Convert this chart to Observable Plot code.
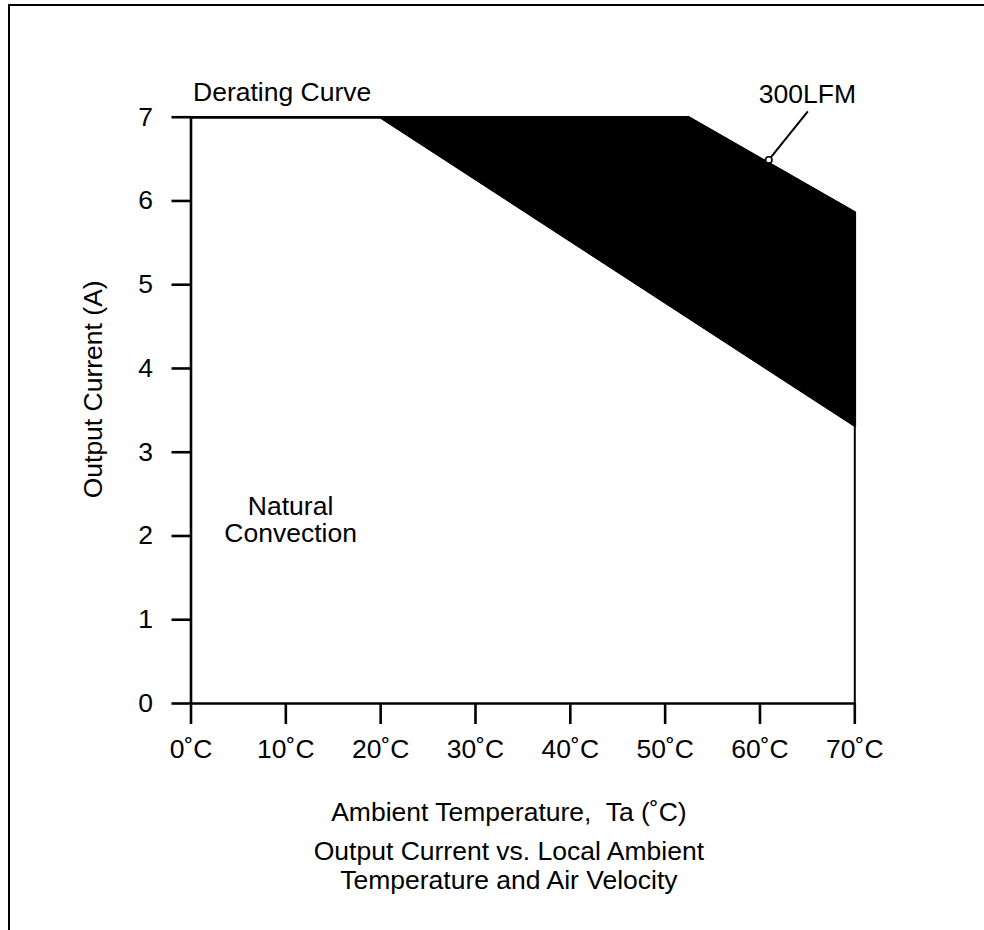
<!DOCTYPE html>
<html>
<head>
<meta charset="utf-8">
<script src="https://cdn.jsdelivr.net/npm/d3@7"></script>
<script src="https://cdn.jsdelivr.net/npm/@observablehq/plot@0.6"></script>
<style>
  html, body { margin: 0; padding: 0; background: #fff; }
  #wrap { position: relative; width: 984px; height: 930px; overflow: hidden; }
  #frame { position: absolute; left: 8px; top: 4px; right: -10px; bottom: -10px;
           border-top: 2.7px solid #000; border-left: 2.7px solid #000; }
  #chart { position: absolute; left: 0; top: 0; }
</style>
</head>
<body>
<div id="wrap"><div id="frame"></div><div id="chart"></div></div>
<script>
// ---- data ----
const naturalTemp = [0, 20, 70];
const naturalCurrent = [7, 7, 3.32];
const lfmTemp = [0, 52.4, 70];
const lfmCurrent = [7, 7, 5.86];
const xTicks = [0, 10, 20, 30, 40, 50, 60, 70];
const yTicks = [0, 1, 2, 3, 4, 5, 6, 7];
const xTickLabels = ["0˚C", "10˚C", "20˚C", "30˚C", "40˚C", "50˚C", "60˚C", "70˚C"];

// annotation anchors (data units)
const lfmPointer = [{x1: 60.93, y1: 6.49, x2: 65.05, y2: 7.07}];
const lfmLabel = [{x: 65, y: 7, text: "300LFM"}];
const derateLabel = [{x: 0, y: 7, text: "Derating Curve"}];
const naturalLabel = [{x: 10.5, y: 2, text: "Natural\nConvection"}];

// ---- build tables ----
const natural = naturalTemp.map((x, i) => ({x, y: naturalCurrent[i]}));
const lfm = lfmTemp.map((x, i) => ({x, y: lfmCurrent[i]}));
const knee = natural[1];
const band = [knee, ...lfm.filter(p => p.x > knee.x), ...natural.filter(p => p.x >= knee.x).reverse()];

const FONT = "'Liberation Sans', Arial, Helvetica, sans-serif";
const FS = 26.5;
const SW = 2.6;

const chart = Plot.plot({
  width: 984,
  height: 930,
  marginLeft: 190.5,
  marginRight: 129.7,
  marginTop: 116.7,
  marginBottom: 227,
  style: {fontFamily: FONT, fontSize: FS + "px", background: "transparent", color: "#000"},
  x: {domain: [0, 70]},
  y: {domain: [0, 7]},
  marks: [
    Plot.line(band, {x: "x", y: "y", fill: "#000", stroke: "#000", strokeWidth: SW, curve: "linear-closed"}),
    Plot.line(natural, {x: "x", y: "y", stroke: "#000", strokeWidth: SW}),
    Plot.line(lfm, {x: "x", y: "y", stroke: "#000", strokeWidth: SW}),
    Plot.ruleY([0], {x1: 0, x2: 70, stroke: "#000", strokeWidth: SW}),
    Plot.ruleX([0], {y1: 0, y2: 7, stroke: "#000", strokeWidth: SW}),
    Plot.ruleX([70], {y1: 0, y2: lfmCurrent[lfmCurrent.length - 1], stroke: "#000", strokeWidth: 2}),
    Plot.axisX({ticks: xTicks, tickFormat: d => xTickLabels[xTicks.indexOf(d)], tickSize: 21, tickPadding: 15,
                fontSize: FS, strokeWidth: SW, label: null, anchor: "bottom"}),
    Plot.axisY({ticks: yTicks, tickFormat: d => String(d), tickSize: 19, tickPadding: 19,
                fontSize: FS, strokeWidth: SW, label: null, anchor: "left"}),
    Plot.link(lfmPointer, {x1: "x1", y1: "y1", x2: "x2", y2: "y2", stroke: "#000", strokeWidth: 2}),
    Plot.dot(lfmPointer, {x: "x1", y: "y1", r: 3.2, fill: "#fff", stroke: "#000", strokeWidth: 1.6}),
    Plot.text(lfmLabel, {x: "x", y: "y", text: "text", textAnchor: "middle", lineAnchor: "bottom", dy: -14, fontSize: FS}),
    Plot.text(derateLabel, {x: "x", y: "y", text: "text", textAnchor: "start", lineAnchor: "bottom", dx: 2, dy: -16, fontSize: FS}),
    Plot.text(naturalLabel, {x: "x", y: "y", text: "text", textAnchor: "middle", lineAnchor: "bottom", lineHeight: 1.03, dy: 6.5, fontSize: FS}),
    Plot.text(["Output Current (A)"], {text: d => d, frameAnchor: "left", rotate: -90, textAnchor: "middle",
               lineAnchor: "bottom", dx: -89.5, dy: -21, fontSize: FS}),
    Plot.text(["Ambient Temperature,\u00a0 Ta (˚C)"], {text: d => d, frameAnchor: "bottom", textAnchor: "middle",
               lineAnchor: "bottom", dx: -14, dy: 117, fontSize: FS}),
    Plot.text(["Output Current vs. Local Ambient\nTemperature and Air Velocity"], {text: d => d, frameAnchor: "bottom",
               textAnchor: "middle", lineAnchor: "bottom", lineHeight: 1.06, dx: -14, dy: 185, fontSize: FS})
  ]
});
document.getElementById("chart").appendChild(chart);
</script>
</body>
</html>
